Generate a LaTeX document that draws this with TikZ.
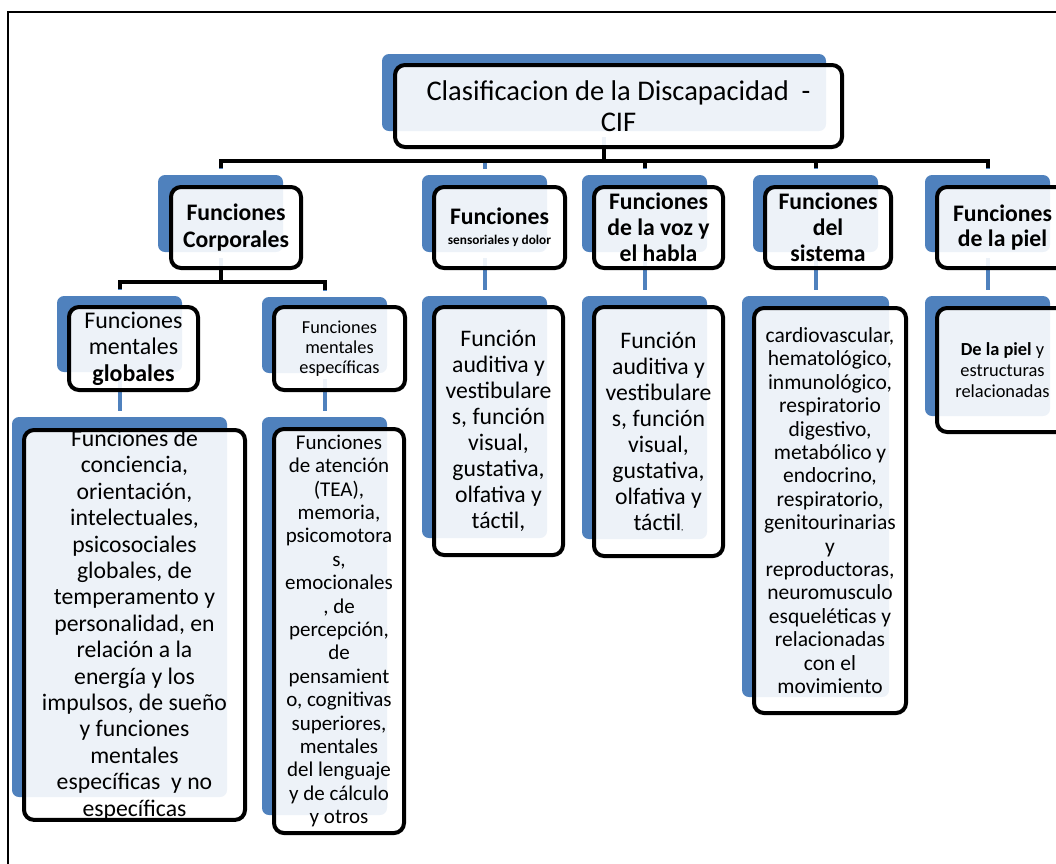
\documentclass[tikz,border=0pt]{standalone}
\usepackage{fontspec}
\setmainfont{Carlito}
\usetikzlibrary{calc,backgrounds}
\definecolor{cifazul}{HTML}{4F81BD}
\newcommand{\fs}[2]{\fontsize{#1pt}{#2pt}\selectfont}

\begin{document}
\begin{tikzpicture}[x=1pt,y=-1pt,
	fondo/.style={fill=cifazul,rounded corners=7pt,inner sep=0pt,outer sep=0pt,anchor=north west},
	caja/.style={draw=black,line width=4pt,rounded corners=10pt,fill=white,fill opacity=0.9,text opacity=1,align=center,inner sep=0pt,anchor=north west},
	ramaazul/.style={draw=cifazul,line width=4pt},
	ramanegra/.style={draw=black,line width=4pt}]
	\useasboundingbox (0,0) rectangle (1056,863);
	% marco
	\draw[line width=2pt] (8,900) -- (8,12) -- (1100,12);

	% fondos azules
	\node[fondo,minimum width=444pt,minimum height=77pt] (clasB) at (382,54) {};
	\node[fondo,minimum width=125pt,minimum height=77pt] (corpB) at (158,175) {};
	\node[fondo,minimum width=125pt,minimum height=77pt] (sensB) at (422,175) {};
	\node[fondo,minimum width=125pt,minimum height=77pt] (vozB) at (582,175) {};
	\node[fondo,minimum width=125pt,minimum height=77pt] (sistB) at (753,175) {};
	\node[fondo,minimum width=125pt,minimum height=77pt] (pielB) at (925,175) {};
	\node[fondo,minimum width=125pt,minimum height=76pt] (globB) at (57,296) {};
	\node[fondo,minimum width=125pt,minimum height=76pt] (espeB) at (262,297) {};
	\node[fondo,minimum width=125pt,minimum height=242pt] (sensCB) at (422,296) {};
	\node[fondo,minimum width=125pt,minimum height=243pt] (vozCB) at (582,296) {};
	\node[fondo,minimum width=147pt,minimum height=401pt] (sistCB) at (742,296) {};
	\node[fondo,minimum width=125pt,minimum height=120pt] (pielCB) at (925,296) {};
	\node[fondo,minimum width=215pt,minimum height=380pt] (globCB) at (12,417) {};
	\node[fondo,minimum width=125pt,minimum height=398pt] (espeCB) at (262,417) {};

	% cajas
	\node[caja,minimum width=447pt,minimum height=82pt,font=\fs{28.5}{31}] (clas) at (393,63) {Clasificacion de la Discapacidad\ \ -\\CIF};
	\node[caja,minimum width=130pt,minimum height=81pt,font=\bfseries\fs{23.7}{27}] (corp) at (169,185) {Funciones\\Corporales};
	\node[caja,minimum width=131pt,minimum height=81pt,font=\bfseries\fs{13.3}{20}] (sens) at (432,185) {{\fs{23.7}{20}Funciones}\\sensoriales y dolor};
	\node[caja,minimum width=129pt,minimum height=81pt,font=\bfseries\fs{23.7}{26}] (voz) at (592,185) {Funciones\\de la voz y\\el habla};
	\node[caja,minimum width=126pt,minimum height=81pt,font=\bfseries\fs{23.7}{26}] (sist) at (763,185) {Funciones\\del\\sistema};
	\node[caja,minimum width=131pt,minimum height=81pt,font=\bfseries\fs{23.7}{25}] (piel) at (935,185) {Funciones\\de la piel};
	\node[caja,minimum width=129pt,minimum height=83pt,font=\fs{23.9}{26.5}] (glob) at (67,305) {Funciones\\mentales\\\textbf{globales}};
	\node[caja,minimum width=131pt,minimum height=83pt,font=\fs{18.3}{20}] (espe) at (272,305) {Funciones\\mentales\\específicas};
	\node[caja,minimum width=129pt,minimum height=248pt,font=\fs{23.7}{26}] (sensC) at (432,305)
		{Función\\auditiva y\\vestibulare\\s, función\\visual,\\gustativa,\\olfativa y\\táctil,};
	\node[caja,minimum width=129pt,minimum height=249pt,font=\fs{23.7}{26}] (vozC) at (592,305)
		{Función\\auditiva y\\vestibulare\\s, función\\visual,\\gustativa,\\olfativa y\\táctil{\fs{9}{26},}};
	\node[caja,minimum width=152pt,minimum height=405pt,font=\fs{21.5}{23.4}] (sistC) at (752,306)
		{cardiovascular,\\hematológico,\\inmunológico,\\respiratorio\\digestivo,\\metabólico y\\endocrino,\\respiratorio,\\genitourinarias\\y\\reproductoras,\\neuromusculo\\esqueléticas y\\relacionadas\\con el\\movimiento};
	\node[caja,minimum width=131pt,minimum height=124pt,font=\fs{18.4}{21}] (pielC) at (935,306)
		{\textbf{De la piel} y\\estructuras\\relacionadas};
	\node[caja,minimum width=221pt,minimum height=383pt,font=\fs{23.7}{26.4}] (globC) at (22,428)
		{Funciones de\\conciencia,\\orientación,\\intelectuales,\\psicosociales\\globales, de\\temperamento y\\personalidad, en\\relación a la\\energía y los\\impulsos, de sueño\\y funciones\\mentales\\específicas\ \ y no\\específicas};
	\node[caja,minimum width=130pt,minimum height=404pt,font=\fs{21}{23.4}] (espeC) at (272,427)
		{Funciones\\de atención\\(TEA),\\memoria,\\psicomotora\\s,\\emocionales\\, de\\percepción,\\de\\pensamient\\o, cognitivas\\superiores,\\mentales\\del lenguaje\\y de cálculo\\y otros};

	% ramas
	\begin{scope}[on background layer]
		\foreach \h in {corp,sens,voz,sist,piel}
			\draw[ramaazul] ($(clasB.south)+(0,6)$) -- ++(0,24) -| ($(\h B.north)+(0,-6)$);
		\foreach \h in {glob,espe}
			\draw[ramaazul] ($(corpB.south)+(0,6)$) -- ++(0,24) -| ($(\h B.north)+(0,-6)$);
		\foreach \h in {sens,voz,sist,piel,glob,espe}
			\draw[ramaazul] ($(\h B.south)+(0,6)$) -- ($(\h CB.north)+(0,-6)$);
		\foreach \h in {corp,voz,sist,piel}
			\draw[ramanegra] (clasB.south |- clas.south) -- ++(0,12) -| ($(\h B.north)+(0,-7)$);
		\foreach \h in {glob,espe}
			\draw[ramanegra] (corpB.south |- corp.south) -- ++(0,12) -| ($(\h B.north)+(0,-7)$);
	\end{scope}
\end{tikzpicture}
\end{document}
